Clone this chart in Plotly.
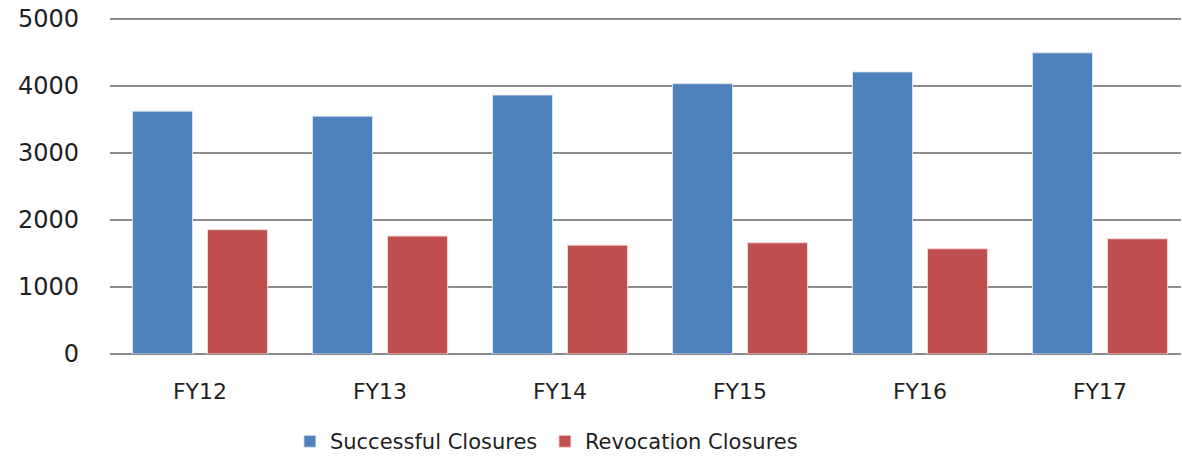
import plotly.graph_objects as go

years = ["FY12", "FY13", "FY14", "FY15", "FY16", "FY17"]
successful = [3625, 3550, 3865, 4035, 4210, 4495]
revocation = [1855, 1760, 1625, 1660, 1570, 1720]
y_ticks = [0, 1000, 2000, 3000, 4000, 5000]

BLUE = "#4F81BD"
RED = "#C0504D"
GRID = "#8C8C8C"
FONT = "DejaVu Sans"

fig = go.Figure()
fig.add_trace(go.Bar(
    x=years, y=successful, name="Successful Closures",
    marker=dict(color=BLUE, line=dict(color="rgba(220,230,245,0.9)", width=1)),
))
fig.add_trace(go.Bar(
    x=years, y=revocation, name="Revocation Closures",
    marker=dict(color=RED, line=dict(color="rgba(245,215,215,0.9)", width=1)),
))

fig.update_layout(
    width=1182, height=456,
    margin=dict(l=110, r=1, t=17, b=102, autoexpand=False),
    paper_bgcolor="white", plot_bgcolor="white",
    barmode="group", bargap=0.167, bargroupgap=0.2,
    font=dict(family=FONT, size=22, color="#1f1f1f"),
    showlegend=True,
    legend=dict(
        orientation="h", x=0.168, xanchor="left", y=-0.26, yanchor="middle",
        font=dict(family=FONT, size=21, color="#1f1f1f"),
        entrywidth=210, entrywidthmode="pixels",
    ),
    xaxis=dict(
        range=[-0.5, 5.45], showgrid=False, ticks="", showline=False,
        tickfont=dict(size=22), ticklabelstandoff=22, automargin=False,
    ),
    yaxis=dict(
        range=[0, 5030], tickvals=y_ticks, showgrid=True, gridcolor=GRID,
        gridwidth=2, zeroline=True, zerolinecolor=GRID, zerolinewidth=2,
        ticks="", showline=False, tickfont=dict(size=24), ticklabelstandoff=30,
        automargin=False,
    ),
)

fig.write_html("out.html")
